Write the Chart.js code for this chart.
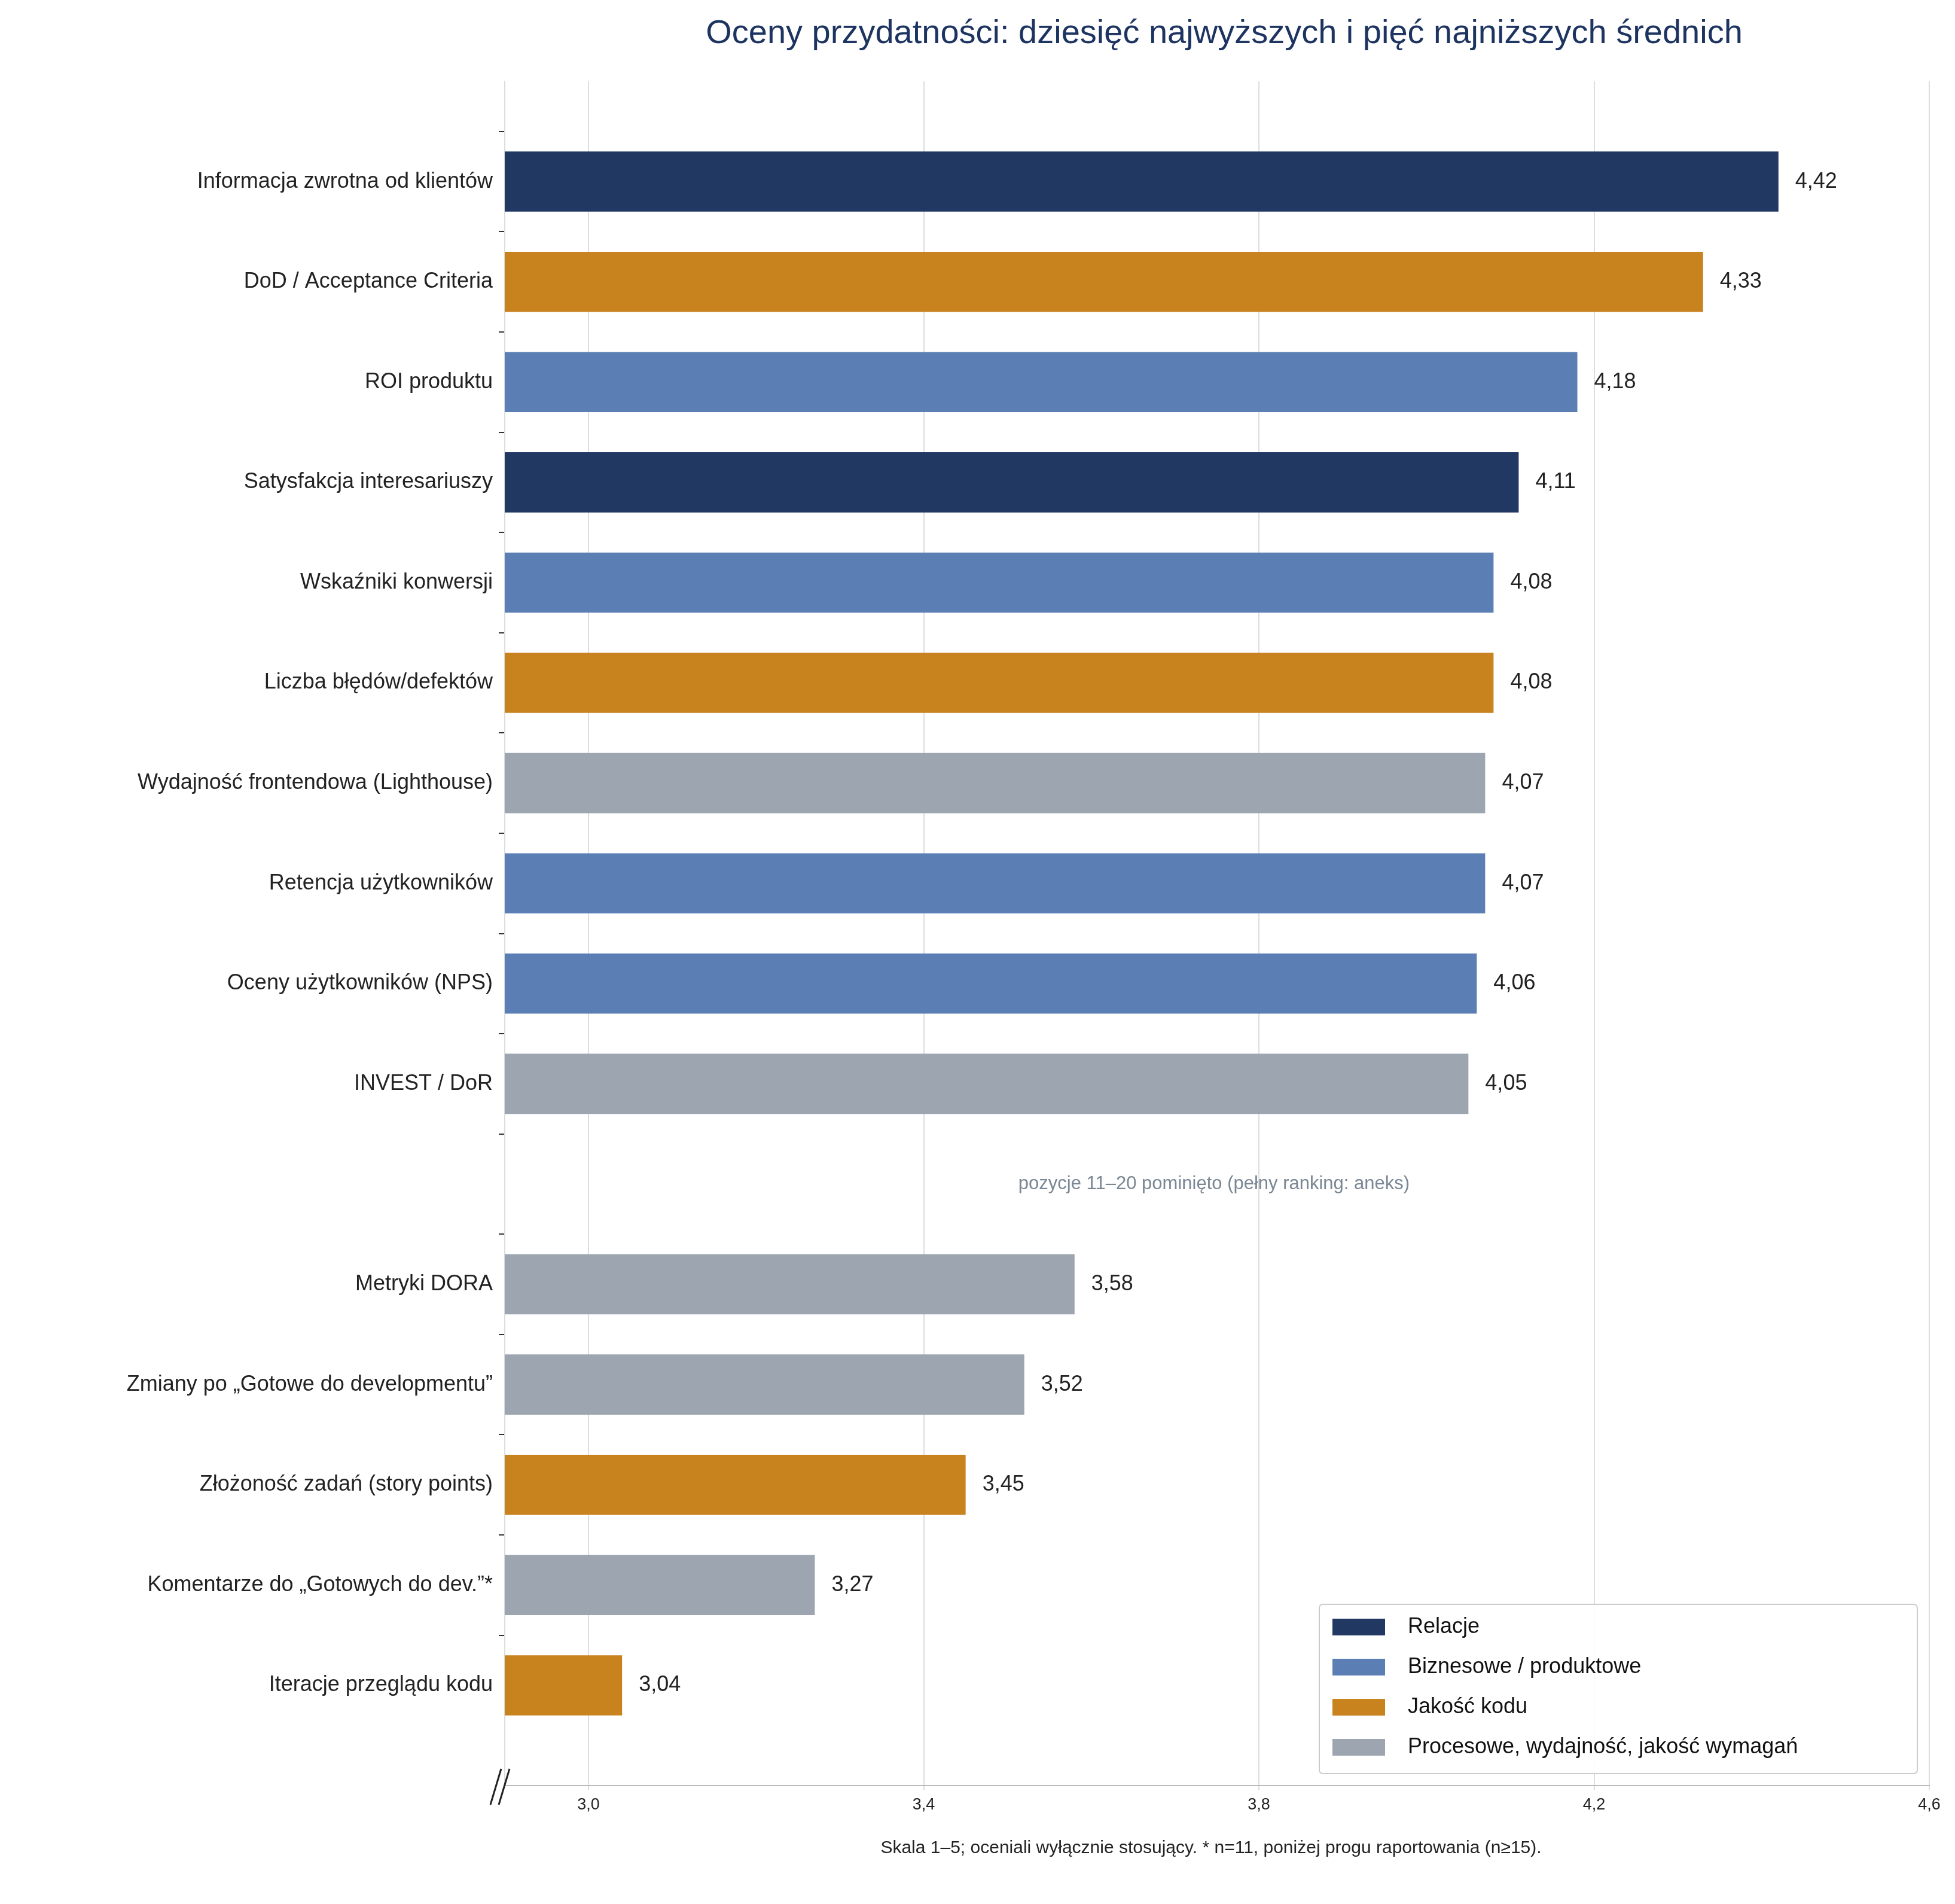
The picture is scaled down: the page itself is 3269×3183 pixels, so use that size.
<!DOCTYPE html>
<html><head><meta charset="utf-8">
<script src="https://cdn.jsdelivr.net/npm/chart.js@4"></script>
<style>html,body{margin:0;background:#fff}canvas{display:block}</style>
</head><body>
<div style="width:3269px;height:3183px"><canvas id="c"></canvas></div>
<script>
'use strict';

// Dane: '' na początku i końcu to puste wiersze odstępu, '—' to przerwa (pozycje 11–20)
const LABELS = ['', 'Informacja zwrotna od klientów', 'DoD / Acceptance Criteria', 'ROI produktu',
  'Satysfakcja interesariuszy', 'Wskaźniki konwersji', 'Liczba błędów/defektów',
  'Wydajność frontendowa (Lighthouse)', 'Retencja użytkowników', 'Oceny użytkowników (NPS)',
  'INVEST / DoR', 'GAP', 'Metryki DORA', 'Zmiany po „Gotowe do developmentu”',
  'Złożoność zadań (story points)', 'Komentarze do „Gotowych do dev.”*', 'Iteracje przeglądu kodu', ''];
const VALUES = [null, 4.42, 4.33, 4.18, 4.11, 4.08, 4.08, 4.07, 4.07, 4.06, 4.05, null,
  3.58, 3.52, 3.45, 3.27, 3.04, null];
const GROUPS = [null, 0, 2, 1, 0, 1, 2, 3, 1, 1, 3, null, 3, 3, 2, 3, 2, null];
const GROUP_NAMES = ['Relacje', 'Biznesowe / produktowe', 'Jakość kodu', 'Procesowe, wydajność, jakość wymagań'];
const GROUP_COLORS = ['#213863', '#5b7fb4', '#c8821e', '#9ca5b0'];
const X_TICKS = [3.0, 3.4, 3.8, 4.2, 4.6];

const FONT = "'Liberation Sans', Arial, sans-serif";
const fmt = v => v.toFixed(2).replace('.', ',');

const extras = {
  id: 'extras',
  afterDatasetsDraw(chart) {
    const { ctx, chartArea: a, scales: { x, y } } = chart;
    const meta = chart.getDatasetMeta(0);
    ctx.save();
    // etykiety wartości
    ctx.fillStyle = '#222'; ctx.font = `36px ${FONT}`;
    ctx.textAlign = 'left'; ctx.textBaseline = 'middle';
    VALUES.forEach((v, i) => {
      if (v == null) return;
      const el = meta.data[i];
      ctx.fillText(fmt(v), el.x + 28, el.y);
    });
    // adnotacja przerwy
    ctx.fillStyle = '#7a8794'; ctx.font = `31px ${FONT}`; ctx.textAlign = 'center';
    ctx.fillText('pozycje 11–20 pominięto (pełny ranking: aneks)', (a.left + a.right) / 2 - 5, y.getPixelForValue(11));
    // tytuł
    ctx.fillStyle = '#1d3461'; ctx.font = `56px ${FONT}`;
    ctx.fillText('Oceny przydatności: dziesięć najwyższych i pięć najniższych średnich', (a.left + a.right) / 2 + 12, 57);
    // przypis
    ctx.fillStyle = '#222'; ctx.font = `30px ${FONT}`;
    ctx.fillText('Skala 1–5; oceniali wyłącznie stosujący. * n=11, poniżej progu raportowania (n≥15).', (a.left + a.right) / 2 - 10, 3090);
    // znaczniki przerwy osi
    ctx.strokeStyle = '#222'; ctx.lineWidth = 3;
    [0, 14].forEach(d => {
      ctx.beginPath();
      ctx.moveTo(a.left - 24 + d, a.bottom + 32);
      ctx.lineTo(a.left - 6 + d, a.bottom - 28);
      ctx.stroke();
    });
    // legenda
    const lx = 2206, ly = 2682, lw = 1000, lh = 283;
    ctx.fillStyle = 'rgba(255,255,255,0.9)';
    ctx.strokeStyle = '#cccccc'; ctx.lineWidth = 2;
    ctx.beginPath(); ctx.roundRect(lx, ly, lw, lh, 6); ctx.fill(); ctx.stroke();
    ctx.font = `36px ${FONT}`; ctx.textAlign = 'left';
    GROUP_NAMES.forEach((n, i) => {
      const cy = ly + 38 + i * 67;
      ctx.fillStyle = GROUP_COLORS[i];
      ctx.fillRect(lx + 22, cy - 14, 88, 28);
      ctx.fillStyle = '#111';
      ctx.fillText(n, lx + 148, cy);
    });
    ctx.restore();
  }
};

new Chart(document.getElementById('c'), {
  type: 'bar',
  data: {
    labels: LABELS,
    datasets: [{
      data: VALUES,
      backgroundColor: GROUPS.map(g => g == null ? 'transparent' : GROUP_COLORS[g]),
      barPercentage: 0.6,
      categoryPercentage: 1,
      base: 2.9,
    }],
  },
  options: {
    indexAxis: 'y',
    responsive: true,
    maintainAspectRatio: false,
    animation: false,
    layout: { padding: { top: 136, right: 43, bottom: 118, left: 0 } },
    plugins: { legend: { display: false }, tooltip: { enabled: false } },
    scales: {
      x: {
        min: 2.9, max: 4.6,
        afterBuildTicks: axis => { axis.ticks = X_TICKS.map(v => ({ value: v })); },
        afterFit: axis => { axis.height = 80; },
        grid: { color: '#dddddd', lineWidth: 2, drawTicks: true, tickLength: 8 },
        border: { display: true, color: '#bbbbbb', width: 2 },
        ticks: { color: '#222', font: { family: FONT, size: 27 }, padding: 8,
          callback: v => v.toFixed(1).replace('.', ',') },
      },
      y: {
        offset: false,
        afterFit: axis => { axis.width = 844; },
        grid: { drawOnChartArea: false, drawTicks: true, tickLength: 10, lineWidth: 2,
          tickColor: c => (c.index === 0 || c.index === LABELS.length - 1) ? 'transparent' : '#333' },
        border: { display: true, color: '#dddddd', width: 2 },
        ticks: { color: '#222', font: { family: FONT, size: 36 }, padding: 10, autoSkip: false,
          callback: (v, i) => LABELS[i] === 'GAP' ? '' : LABELS[i] },
      },
    },
  },
  plugins: [extras],
});
</script>
</body></html>
